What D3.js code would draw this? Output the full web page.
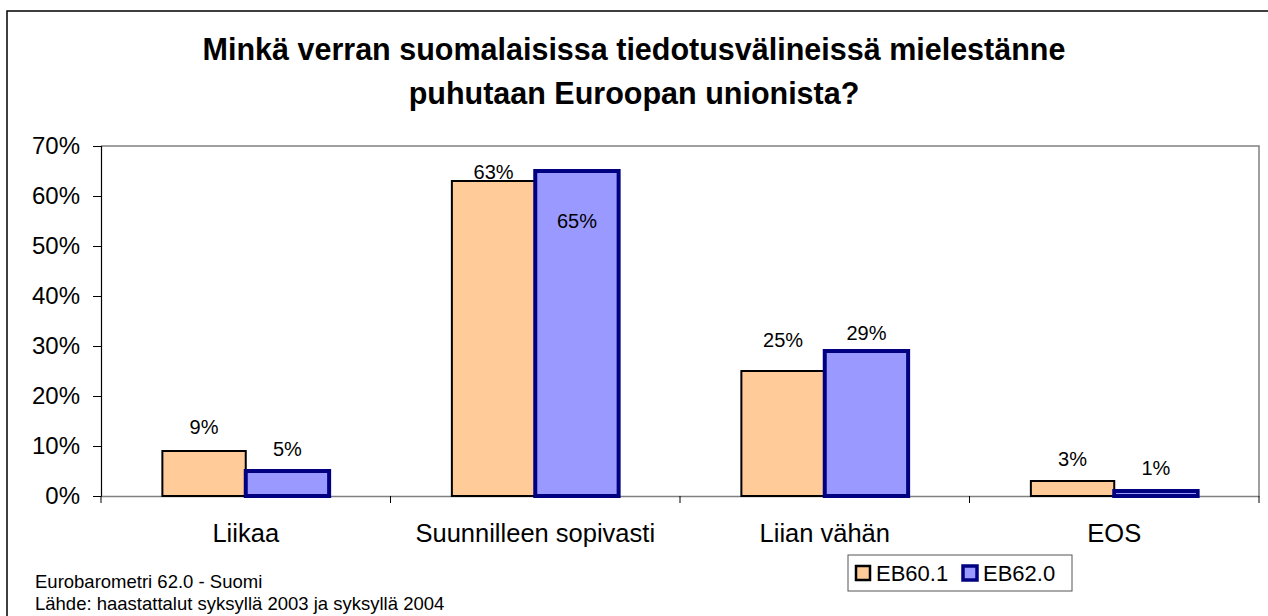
<!DOCTYPE html>
<html><head><meta charset="utf-8">
<script src="https://cdn.jsdelivr.net/npm/d3@7"></script>
<style>body{margin:0;background:#fff}svg{display:block;font-family:"Liberation Sans",Arial,sans-serif}</style>
</head><body><svg id="c" width="1268" height="616"></svg>
<script>
const categories = ["Liikaa", "Suunnilleen sopivasti", "Liian vähän", "EOS"];
const seriesNames = ["EB60.1", "EB62.0"];
const eb601 = [9, 63, 25, 3];
const eb620 = [5, 65, 29, 1];
const yTicks = [0, 10, 20, 30, 40, 50, 60, 70];
const titleLines = ["Minkä verran suomalaisissa tiedotusvälineissä mielestänne", "puhutaan Euroopan unionista?"];
const footer = ["Eurobarometri 62.0 - Suomi", "Lähde: haastattalut syksyllä 2003 ja syksyllä 2004"];

const fills = ["#FFCC99", "#9999FF"];
const strokes = ["#000000", "#000080"];
const strokeW = [2, 4];
// label vertical shifts (px above bar top); negative = inside
const labelShift = [[24, 22], [9, -50], [31, 18], [22, 23]];

const svg = d3.select("#c");
const m = {l: 101, r: 1259, t: 146, b: 496};
const x = d3.scaleBand().domain(categories).range([m.l, m.r]);
const y = d3.scaleLinear().domain([0, 70]).range([m.b, m.t]);
const bw = x.bandwidth() * 0.288;

// outer frame
svg.append("path").attr("d", `M7,616 V11 H1268`).attr("fill", "none").attr("stroke", "#000").attr("stroke-width", 1.5);

// title
svg.append("g").selectAll("text").data(titleLines).join("text")
  .attr("x", 634).attr("y", (d, i) => 60 + i * 44).attr("text-anchor", "middle")
  .attr("font-size", 30.5).attr("font-weight", "bold").text(d => d);

// plot border top/right
svg.append("path").attr("d", `M${m.l},${m.t} H${m.r} V${m.b}`).attr("fill", "none").attr("stroke", "#808080").attr("stroke-width", 1.5);

// y axis
const ya = svg.append("g").attr("transform", `translate(${m.l},0)`)
  .call(d3.axisLeft(y).tickValues(yTicks).tickFormat(d => d + "%").tickSize(8).tickPadding(13));
ya.select(".domain").attr("stroke", "#000").attr("stroke-width", 1.2);
ya.selectAll(".tick line").attr("stroke", "#000");
ya.selectAll("text").attr("font-size", 24).attr("fill", "#000").attr("font-family", "Liberation Sans, Arial, sans-serif");

// x axis
const xa = svg.append("g").attr("transform", `translate(0,${m.b})`)
  .call(d3.axisBottom(x).tickSize(0).tickPadding(28));
xa.select(".domain").attr("stroke", "#808080").attr("stroke-width", 1.5);
xa.selectAll("text").attr("font-size", 25.5).attr("fill", "#000").attr("font-family", "Liberation Sans, Arial, sans-serif");
const bounds = categories.map(c => x(c)).concat([m.r]);
svg.append("g").selectAll("line").data(bounds).join("line")
  .attr("x1", d => d).attr("x2", d => d).attr("y1", m.b).attr("y2", m.b + 7).attr("stroke", "#000");

// bars
const series = [eb601, eb620];
series.forEach((vals, si) => {
  const g = svg.append("g");
  g.selectAll("rect").data(vals).join("rect")
    .attr("x", (d, i) => x(categories[i]) + x.bandwidth() / 2 - bw + si * bw)
    .attr("y", d => y(d))
    .attr("width", bw)
    .attr("height", d => y(0) - y(d))
    .attr("fill", fills[si]).attr("stroke", strokes[si]).attr("stroke-width", strokeW[si]);
  g.selectAll("text").data(vals).join("text")
    .attr("x", (d, i) => x(categories[i]) + x.bandwidth() / 2 - bw / 2 + si * bw)
    .attr("y", (d, i) => y(d) - labelShift[i][si])
    .attr("dy", "0.35em").attr("text-anchor", "middle").attr("font-size", 20)
    .text(d => d + "%");
});

// legend
const lg = svg.append("g");
lg.append("rect").attr("x", 848).attr("y", 555).attr("width", 224).attr("height", 36)
  .attr("fill", "#fff").attr("stroke", "#555").attr("stroke-width", 1);
const lx = [856, 963];
seriesNames.forEach((n, i) => {
  lg.append("rect").attr("x", lx[i]).attr("y", 566).attr("width", 14).attr("height", 14)
    .attr("fill", fills[i]).attr("stroke", strokes[i]).attr("stroke-width", i ? 3.5 : 2.5);
  lg.append("text").attr("x", lx[i] + 20).attr("y", 581).attr("font-size", 22).text(n);
});

// footer
svg.append("g").selectAll("text").data(footer).join("text")
  .attr("x", 35).attr("y", (d, i) => 588 + i * 22).attr("font-size", 18.5).text(d => d);
</script></body></html>
